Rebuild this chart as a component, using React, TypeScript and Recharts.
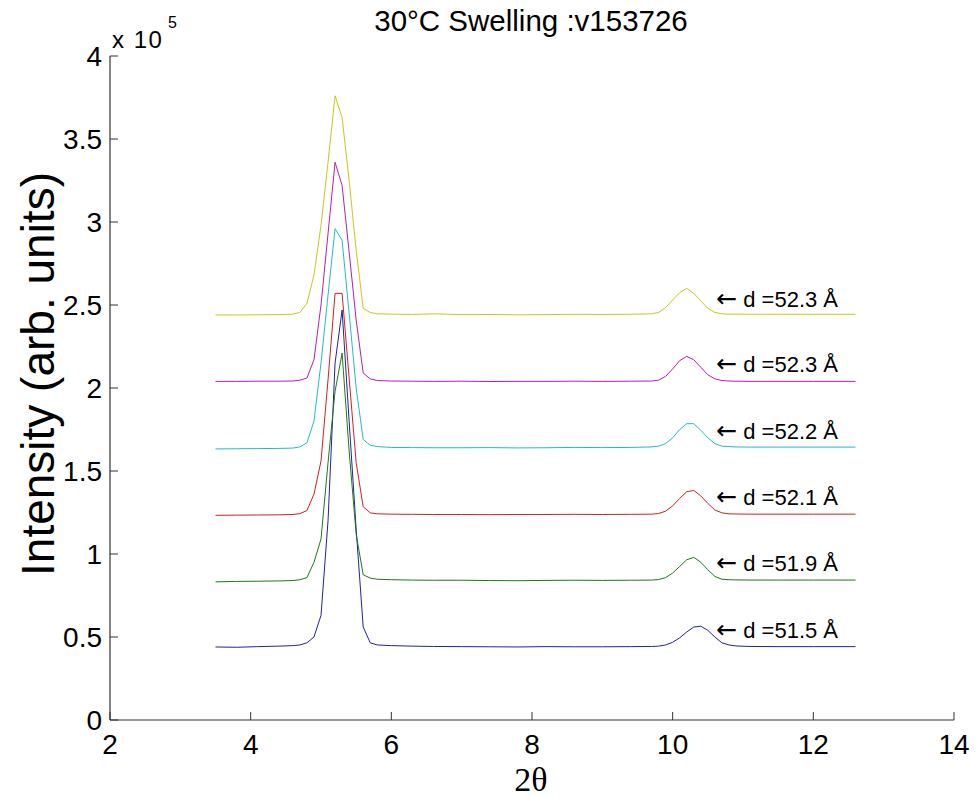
import React from 'react';
import { ComposedChart, Line, XAxis, YAxis, ReferenceDot, Customized } from 'recharts';

// 2θ sample positions (degrees)
const twoTheta = [3.5, 3.8, 4.1, 4.4, 4.6, 4.7, 4.8, 4.9, 5.0, 5.1, 5.2, 5.3, 5.4, 5.5, 5.6, 5.7, 5.8, 6.0, 6.3, 6.6, 7.0, 7.4, 7.8, 8.2, 8.6, 9.0, 9.4, 9.7, 9.8, 9.9, 10.0, 10.1, 10.2, 10.3, 10.4, 10.5, 10.6, 10.7, 10.8, 10.9, 11.1, 11.5, 12.0, 12.6];

// Intensities in units of 10^5 (arb. units)
const blueSeries = [0.44, 0.438, 0.442, 0.445, 0.448, 0.452, 0.465, 0.5, 0.63, 1.2, 2.15, 2.47, 1.8, 1.15, 0.56, 0.465, 0.452, 0.448, 0.445, 0.443, 0.442, 0.441, 0.44, 0.442, 0.441, 0.441, 0.442, 0.443, 0.445, 0.452, 0.468, 0.495, 0.53, 0.56, 0.565, 0.54, 0.5, 0.465, 0.452, 0.446, 0.443, 0.442, 0.442, 0.442];
const greenSeries = [0.832, 0.835, 0.836, 0.838, 0.84, 0.845, 0.858, 0.95, 1.09, 1.55, 1.98, 2.21, 1.62, 1.12, 0.875, 0.855, 0.848, 0.845, 0.843, 0.842, 0.842, 0.84, 0.839, 0.841, 0.842, 0.841, 0.842, 0.843, 0.846, 0.858, 0.885, 0.925, 0.965, 0.98, 0.95, 0.905, 0.865, 0.848, 0.845, 0.844, 0.843, 0.843, 0.843, 0.843];
const redSeries = [1.233, 1.234, 1.235, 1.236, 1.238, 1.243, 1.262, 1.36, 1.56, 2.05, 2.57, 2.57, 2.06, 1.55, 1.285, 1.248, 1.242, 1.24, 1.239, 1.238, 1.238, 1.237, 1.238, 1.238, 1.239, 1.238, 1.239, 1.24, 1.244, 1.258, 1.29, 1.335, 1.375, 1.383, 1.35, 1.305, 1.265, 1.248, 1.242, 1.241, 1.24, 1.24, 1.24, 1.24];
const cyanSeries = [1.633, 1.634, 1.635, 1.636, 1.638, 1.645, 1.67, 1.8, 2.15, 2.56, 2.96, 2.89, 2.45, 2.0, 1.69, 1.655, 1.647, 1.642, 1.641, 1.64, 1.64, 1.641, 1.639, 1.64, 1.642, 1.641, 1.642, 1.645, 1.65, 1.665, 1.7, 1.75, 1.785, 1.785, 1.745, 1.7, 1.665, 1.65, 1.647, 1.645, 1.644, 1.644, 1.644, 1.644];
const magentaSeries = [2.04, 2.04, 2.041, 2.041, 2.042, 2.047, 2.06, 2.17, 2.5, 2.93, 3.36, 3.22, 2.82, 2.41, 2.09, 2.055, 2.045, 2.042, 2.041, 2.04, 2.041, 2.039, 2.04, 2.04, 2.041, 2.04, 2.041, 2.042, 2.047, 2.07, 2.115, 2.165, 2.19, 2.17, 2.125, 2.08, 2.055, 2.045, 2.042, 2.041, 2.04, 2.04, 2.04, 2.04];
const yellowSeries = [2.44, 2.44, 2.441, 2.442, 2.445, 2.455, 2.51, 2.68, 2.98, 3.36, 3.76, 3.63, 3.25, 2.83, 2.48, 2.455, 2.447, 2.445, 2.443, 2.447, 2.442, 2.443, 2.441, 2.442, 2.444, 2.443, 2.444, 2.447, 2.455, 2.485, 2.53, 2.575, 2.6, 2.57, 2.525, 2.48, 2.455, 2.447, 2.445, 2.445, 2.444, 2.444, 2.444, 2.444];

const seriesKeys = ['blue', 'green', 'red', 'cyan', 'magenta', 'yellow'];
const seriesValues = [blueSeries, greenSeries, redSeries, cyanSeries, magentaSeries, yellowSeries];
const seriesColors = ['#22229a', '#1a7a1a', '#d02020', '#1fbfbf', '#b31fb3', '#c8c81a'];

const dLabels = ['d =51.5 Å', 'd =51.9 Å', 'd =52.1 Å', 'd =52.2 Å', 'd =52.3 Å', 'd =52.3 Å'];
const dLabelX = 10.62;
const dLabelY = [0.53, 0.93, 1.33, 1.73, 2.13, 2.52];

const xTicks = [2, 4, 6, 8, 10, 12, 14];
const yTicks = [0, 0.5, 1, 1.5, 2, 2.5, 3, 3.5, 4];

const titleText = '30°C Swelling :v153726';
const yLabelText = 'Intensity (arb. units)';
const xLabelText = '2θ';

const data = twoTheta.map((t, i) => {
  const row: any = { t };
  seriesKeys.forEach((k, j) => { row[k] = seriesValues[j][i]; });
  return row;
});

const W = 979;
const H = 798;
const LEFT = 110;
const RIGHT = 25;
const TOP = 56;
const BOTTOM = 78;
const FONT = 'Arial, "Liberation Sans", Helvetica, sans-serif';
const AXIS = '#333333';

const XTick = (p: any) => {
  const { x, y, payload } = p;
  return (
    <g>
      <line x1={x} x2={x} y1={y - 13} y2={y - 21} stroke={AXIS} strokeWidth={1} />
      <text x={x} y={y} dy="0.75em" textAnchor="middle" fontSize={28} fontFamily={FONT} fill="#000">{payload.value}</text>
    </g>
  );
};

const YTick = (p: any) => {
  const { x, y, payload } = p;
  return (
    <g>
      <line x1={x + 8} x2={x + 16} y1={y} y2={y} stroke={AXIS} strokeWidth={1} />
      <text x={x} y={y} dy="0.36em" textAnchor="end" fontSize={28} fontFamily={FONT} fill="#000">{payload.value}</text>
    </g>
  );
};

const Labels = () => (
  <g>
    <text x={531} y={31} textAnchor="middle" fontSize={29.5} fontFamily={FONT} fill="#000">{titleText}</text>
    <text x={LEFT + 2} y={48} fontSize={24} fontFamily={FONT} fill="#000" letterSpacing={1.5}>x 10</text>
    <text x={LEFT + 58} y={28} fontSize={16} fontFamily={FONT} fill="#000">5</text>
    <text transform={`translate(54, 374) rotate(-90)`} textAnchor="middle" fontSize={46} fontFamily={FONT} fill="#000">{yLabelText}</text>
    <text x={531} y={791} textAnchor="middle" fontSize={34} fontFamily={'"Liberation Serif", "Times New Roman", serif'} fill="#000">{xLabelText}</text>
  </g>
);

const ArrowLabel = (text: string) => (p: any) => (
  <text x={p.cx} y={p.cy} dy="0.36em" fontFamily={FONT} fill="#000">
    <tspan fontSize={25} fontFamily={'"DejaVu Sans", sans-serif'}>{'\u2190'}</tspan>
    <tspan fontSize={22} dx={6}>{text}</tspan>
  </text>
);

export default function App() {
  return (
    <div style={{ width: W, height: H, background: '#fff' }}>
      <style>{'body{margin:0;background:#fff}'}</style>
      <ComposedChart width={W} height={H} data={data} margin={{ top: TOP, right: RIGHT, bottom: 0, left: 0 }}>
        <XAxis
          type="number"
          dataKey="t"
          domain={[2, 14]}
          ticks={xTicks}
          interval={0}
          height={BOTTOM}
          tickSize={0}
          tickMargin={13}
          tick={<XTick />}
          axisLine={{ stroke: AXIS, strokeWidth: 1.2 }}
          allowDataOverflow
        />
        <YAxis
          type="number"
          domain={[0, 4]}
          ticks={yTicks}
          interval={0}
          width={LEFT}
          tickSize={0}
          tickMargin={8}
          tick={<YTick />}
          axisLine={{ stroke: AXIS, strokeWidth: 1.2 }}
          allowDataOverflow
        />
        {seriesKeys.map((k, j) => (
          <Line key={k} dataKey={k} type="linear" stroke={seriesColors[j]} strokeWidth={1} dot={false} activeDot={false} isAnimationActive={false} />
        ))}
        {dLabels.map((txt, j) => (
          <ReferenceDot key={j} x={dLabelX} y={dLabelY[j]} r={1} ifOverflow="visible" shape={ArrowLabel(txt)} />
        ))}
        <Customized component={Labels} />
      </ComposedChart>
    </div>
  );
}
